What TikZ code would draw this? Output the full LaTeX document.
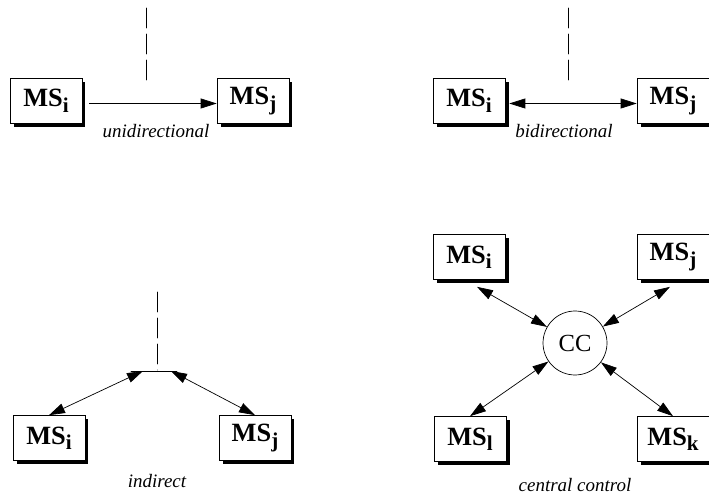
\documentclass[tikz,border=0pt]{standalone}
\usepackage{fontspec}
\setmainfont{Liberation Serif}
\usepackage{tkz-euclide}
\usetikzlibrary{arrows.meta,shadows}

\tikzset{
  msbox/.style={draw, thin, fill=white, inner sep=0pt,
    minimum width=1.44cm, minimum height=0.9cm,
    font=\fontsize{15}{17}\selectfont\bfseries,
    drop shadow={opacity=1, fill=black, shadow xshift=0.07cm, shadow yshift=-0.07cm}},
  kind/.style={font=\fontsize{10.8}{13}\selectfont\itshape},
  tip/.tip={Triangle[length=0.32cm,width=0.2cm]},
  link/.style={thin, -tip},
  twoway/.style={thin, tip-tip},
  gap/.style={thin, dash pattern=on 0.4cm off 0.12cm},
}
\newcommand{\ms}[1]{MS\raisebox{-0.45ex}{\fontsize{12}{13}\selectfont #1}}

\begin{document}
\begin{tikzpicture}[x=0.02cm, y=-0.02cm]
\useasboundingbox (0,0) rectangle (709,499);

% Unidirectional: MS_i sends to MS_j
\node[msbox] (ui) at (46,101) {\ms{i}};
\node[msbox] (uj) at (253,101) {\ms{j}};
\draw[link] ([xshift=0.14cm, yshift=-0.05cm]ui.east) -- ([yshift=-0.05cm]uj.west);
\tkzDefPoints{146/8/U1, 146/80/U2}
\tkzDrawSegment[gap](U1,U2)
\node[kind] (ulabel) at (156,131) {unidirectional};

% Bidirectional
\node[msbox] (bi) at (469,101) {\ms{i}};
\node[msbox] (bj) at (673,101) {\ms{j}};
\draw[twoway] ([xshift=0.08cm, yshift=-0.05cm]bi.east) -- ([yshift=-0.05cm]bj.west);
\tkzDefPoints{568/8/B1, 568/80/B2}
\tkzDrawSegment[gap](B1,B2)
\node[kind] (blabel) at (564,131) {bidirectional};

% Indirect: both meet at a hub below the dashed line
\node[msbox] (ii) at (49,438) {\ms{i}};
\node[msbox] (ij) at (255,438) {\ms{j}};
\tkzDefPoints{157/292/I1, 157/370/I2, 131/371/L, 177/371/R}
\tkzDrawSegment[gap](I1,I2)
\tkzDrawSegment[thin](L,R)
\coordinate (hl) at (143,371);
\coordinate (hr) at (171,371);
\draw[twoway] (hl) -- (ii.north);
\draw[twoway] (hr) -- (ij.north);
\node[kind] (ilabel) at (157,481) {indirect};

% Central control
\node[msbox] (ci) at (469,257) {\ms{i}};
\node[msbox] (cj) at (673,257) {\ms{j}};
\node[msbox] (cl) at (470,439) {\ms{l}};
\node[msbox] (ck) at (673,439) {\ms{k}};
\node[draw, thin, circle, minimum size=1.28cm, inner sep=0pt,
  font=\fontsize{14}{16}\selectfont] (cc) at (575,343) {CC};
\draw[twoway] (cc) -- ([xshift=0.16cm, yshift=-0.14cm]ci.south);
\draw[twoway] (cc) -- ([xshift=-0.06cm, yshift=-0.14cm]cj.south);
\draw[twoway] (cc) -- (cl.north);
\draw[twoway] (cc) -- (ck.north);
\node[kind] (clabel) at (575,485) {central control};

\end{tikzpicture}
\end{document}
